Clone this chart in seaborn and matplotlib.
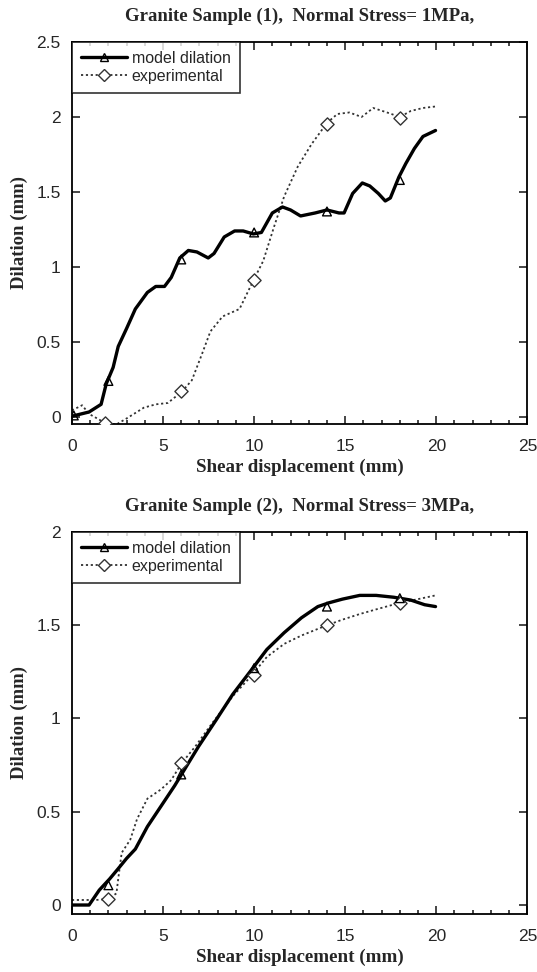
import numpy as np
import matplotlib
matplotlib.use("Agg")
import matplotlib.pyplot as plt
from matplotlib.lines import Line2D
from matplotlib.ticker import MultipleLocator
import pandas as pd
import seaborn as sns

# Sample 1 - model dilation (solid line)
m1_x = [0, 0.94, 1.6, 1.88, 2.26, 2.54, 3.0, 3.48, 4.14, 4.6, 5.08, 5.45, 5.92, 6.39, 6.86,
        7.48, 7.8, 8.36, 8.93, 9.4, 9.96, 10.4, 11.0, 11.56, 12.0, 12.55, 13.35, 14.0, 14.66,
        14.94, 15.41, 15.94, 16.35, 16.82, 17.2, 17.48, 17.95, 18.33, 18.8, 19.27, 19.96]
m1_y = [0.005, 0.033, 0.084, 0.22, 0.33, 0.47, 0.59, 0.72, 0.83, 0.87, 0.87, 0.93, 1.06, 1.11, 1.10,
        1.06, 1.09, 1.20, 1.24, 1.24, 1.22, 1.23, 1.36, 1.40, 1.38, 1.34, 1.36, 1.38, 1.36,
        1.36, 1.49, 1.56, 1.54, 1.49, 1.44, 1.46, 1.60, 1.69, 1.79, 1.87, 1.91]
m1_mk_x = [0.1, 2.0, 6.0, 10.0, 14.0, 18.0]
m1_mk_y = [0.01, 0.24, 1.05, 1.23, 1.37, 1.58]

# Sample 1 - experimental (dotted line)
e1_x = [0, 0.56, 0.94, 1.5, 1.84, 2.44, 3.0, 3.95, 4.6, 5.26, 6.02, 6.58, 7.14, 7.6, 8.27,
        9.2, 9.96, 10.5, 11.1, 11.65, 12.4, 13.16, 14.0, 14.57, 15.23, 15.9, 16.54, 17.3,
        18.0, 18.6, 19.27, 19.96]
e1_y = [0.044, 0.078, 0.02, -0.018, -0.044, -0.05, -0.01, 0.062, 0.084, 0.093, 0.167, 0.244,
        0.42, 0.57, 0.67, 0.72, 0.91, 1.04, 1.27, 1.47, 1.67, 1.82, 1.96, 2.02, 2.03, 2.00,
        2.06, 2.03, 2.00, 2.04, 2.06, 2.07]
e1_mk_x = [1.84, 6.0, 10.0, 14.0, 18.0]
e1_mk_y = [-0.04, 0.17, 0.91, 1.95, 1.99]

# Sample 2 - model dilation
m2_x = [0, 0.94, 1.5, 2.07, 2.54, 3.0, 3.48, 4.14, 4.89, 5.64, 6.2, 6.95, 7.9, 8.83, 9.77,
        10.7, 11.65, 12.6, 13.5, 14.1, 14.85, 15.8, 16.7, 17.67, 18.6, 19.36, 19.96]
m2_y = [0, 0, 0.08, 0.14, 0.195, 0.25, 0.30, 0.42, 0.53, 0.64, 0.73, 0.85, 0.99, 1.13, 1.25,
        1.37, 1.46, 1.54, 1.60, 1.62, 1.64, 1.66, 1.66, 1.65, 1.635, 1.61, 1.60]
m2_mk_x = [2.0, 6.0, 10.0, 14.0, 18.0]
m2_mk_y = [0.106, 0.70, 1.27, 1.60, 1.645]

# Sample 2 - experimental
e2_x = [0, 1.3, 1.97, 2.44, 2.54, 2.73, 3.2, 3.57, 4.14, 4.89, 5.45, 6.02, 6.77, 7.7, 8.83,
        9.77, 10.7, 11.65, 12.6, 14.0, 14.85, 15.8, 16.7, 18.0, 19.0, 19.96]
e2_y = [0.027, 0.027, 0.032, 0.062, 0.14, 0.28, 0.35, 0.46, 0.57, 0.62, 0.67, 0.76, 0.85,
        0.975, 1.12, 1.22, 1.33, 1.40, 1.445, 1.50, 1.53, 1.56, 1.585, 1.62, 1.64, 1.66]
e2_mk_x = [2.0, 6.0, 10.0, 14.0, 18.0]
e2_mk_y = [0.032, 0.76, 1.235, 1.50, 1.62]

titles = ["Granite Sample (1),  Normal Stress= 1MPa,",
          "Granite Sample (2),  Normal Stress= 3MPa,"]

sns.set_style("ticks")
plt.rcParams['font.family'] = ['Liberation Sans', 'DejaVu Sans']

fig = plt.figure(figsize=(5.37, 9.72), dpi=100)
ax1 = fig.add_axes([0.134, 0.5638, 0.848, 0.393])
ax2 = fig.add_axes([0.134, 0.0597, 0.848, 0.393])

panels = [
    (ax1, m1_x, m1_y, m1_mk_x, m1_mk_y, e1_x, e1_y, e1_mk_x, e1_mk_y, (-0.047, 2.5), titles[0]),
    (ax2, m2_x, m2_y, m2_mk_x, m2_mk_y, e2_x, e2_y, e2_mk_x, e2_mk_y, (-0.048, 2.0), titles[1]),
]

serif = dict(family='Liberation Serif', fontweight='bold')

for ax, mx, my, mkx, mky, ex, ey, ekx, eky, ylim, title in panels:
    sns.lineplot(x=ex, y=ey, ax=ax, sort=False, estimator=None, color='#333333',
                 linewidth=1.3, linestyle=(0, (1.2, 1.5)))
    sns.lineplot(x=mx, y=my, ax=ax, sort=False, estimator=None, color='black', linewidth=2.4)
    sns.scatterplot(x=ekx, y=eky, ax=ax, marker='D', s=45, facecolor='white',
                    edgecolor='#333333', linewidth=1.0, zorder=4)
    sns.scatterplot(x=mkx, y=mky, ax=ax, marker='^', s=40, facecolor='none',
                    edgecolor='black', linewidth=1.0, zorder=5)

    ax.set_xlim(0, 25)
    ax.set_ylim(*ylim)
    ax.xaxis.set_major_locator(MultipleLocator(5))
    ax.xaxis.set_minor_locator(MultipleLocator(1))
    yt = np.arange(0, ylim[1] + 0.01, 0.5)
    ax.set_yticks(yt)
    ax.set_yticklabels([f"{v:g}" for v in yt])
    ax.tick_params(which='both', direction='in', top=True, right=True, labelsize=12.5,
                   width=1.2)
    ax.tick_params(axis='x', pad=10.5)
    ax.tick_params(axis='y', pad=8)
    ax.tick_params(which='major', length=5.5)
    ax.tick_params(which='minor', length=3)
    for sp in ax.spines.values():
        sp.set_linewidth(1.3)
        sp.set_color('black')

    ax.set_title(title, fontsize=13.5, pad=15, **serif)
    ax.set_xlabel("Shear displacement (mm)", fontsize=13.7, labelpad=4, **serif)
    ax.set_ylabel("Dilation (mm)", fontsize=13.5, labelpad=6, **serif)

    handles = [
        Line2D([], [], color='black', linewidth=2.4, marker='^', markersize=6,
               markerfacecolor='none', markeredgecolor='black'),
        Line2D([], [], color='#333333', linewidth=1.3, linestyle=(0, (1.2, 1.5)), marker='D',
               markersize=6, markerfacecolor='white', markeredgecolor='#333333'),
    ]
    leg = ax.legend(handles, ["model dilation", "experimental"], loc='upper left',
                    bbox_to_anchor=(0, 1), fontsize=11.5, frameon=True, fancybox=False,
                    borderaxespad=0, handlelength=2.9, handletextpad=0.3,
                    borderpad=0.55, labelspacing=0.2)
    leg.get_frame().set_edgecolor('black')
    leg.get_frame().set_linewidth(1.2)

fig.savefig("out.png", dpi=100)
